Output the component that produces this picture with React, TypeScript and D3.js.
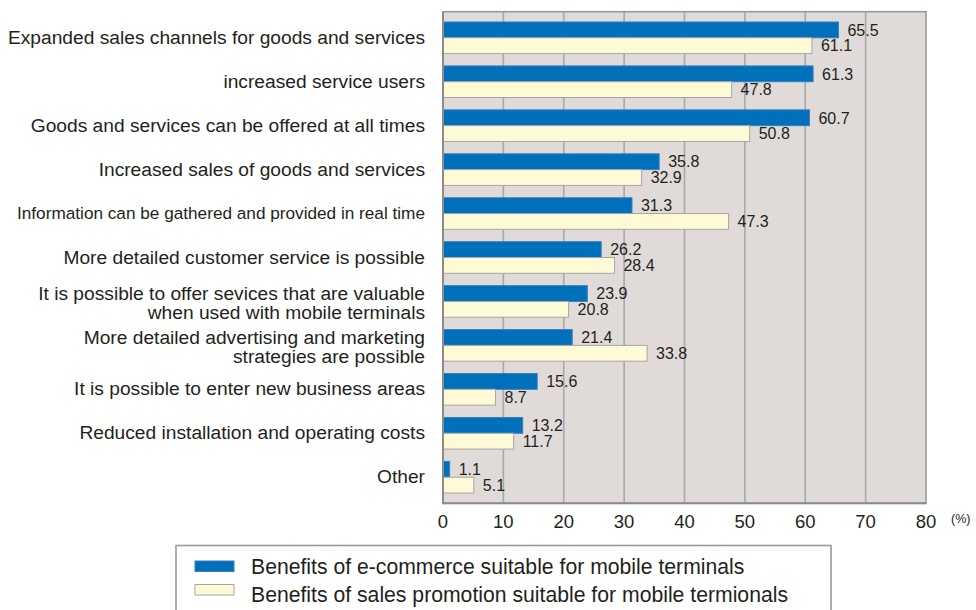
import React from 'react';
import * as d3 from 'd3';

const categories: string[] = [
  'Expanded sales channels for goods and services',
  'increased service users',
  'Goods and services can be offered at all times',
  'Increased sales of goods and services',
  'Information can be gathered and provided in real time',
  'More detailed customer service is possible',
  'It is possible to offer sevices that are valuable\nwhen used with mobile terminals',
  'More detailed advertising and marketing\nstrategies are possible',
  'It is possible to enter new business areas',
  'Reduced installation and operating costs',
  'Other',
];

const ecommerce: number[] = [65.5, 61.3, 60.7, 35.8, 31.3, 26.2, 23.9, 21.4, 15.6, 13.2, 1.1];
const promotion: number[] = [61.1, 47.8, 50.8, 32.9, 47.3, 28.4, 20.8, 33.8, 8.7, 11.7, 5.1];
const xTicks: number[] = [0, 10, 20, 30, 40, 50, 60, 70, 80];
const seriesNames: string[] = [
  'Benefits of e-commerce suitable for mobile terminals',
  'Benefits of sales promotion suitable for mobile termionals',
];
const seriesColors: string[] = ['#0070BA', '#FFFAD6'];
const seriesStrokes: string[] = ['#3A7DBE', '#A6A6A6'];

const W = 976;
const H = 610;
const FONT = '"Liberation Sans", Arial, Helvetica, sans-serif';
const TEXT = '#231F20';

export default function App() {
  const left = 443;
  const right = 926;
  const top = 11.7;
  const bottom = 503.3;

  const x = d3.scaleLinear().domain([0, 80]).range([left, right]);
  const y = d3
    .scaleBand<number>()
    .domain(d3.range(categories.length))
    .range([top, bottom])
    .paddingInner(0.281)
    .paddingOuter(0.234);
  const sub = d3.scaleBand<number>().domain([0, 1]).range([0, y.bandwidth()]);
  const series = [ecommerce, promotion];

  return (
    <svg
      width={W}
      height={H}
      style={{ position: 'absolute', left: 0, top: 0, fontFamily: FONT }}
    >
      <rect x={0} y={0} width={W} height={H} fill="#ffffff" />
      {/* plot background */}
      <rect x={left} y={top} width={right - left} height={bottom - top} fill="#E0DBD9" />
      {/* grid lines */}
      {xTicks
        .filter((t) => t > 0 && t < 80)
        .map((t) => (
          <line key={t} x1={x(t)} x2={x(t)} y1={top} y2={bottom} stroke="#A8A8A8" strokeWidth={1.6} />
        ))}
      {/* bars */}
      {series.map((vals, s) =>
        vals.map((v, i) => (
          <rect
            key={`${s}-${i}`}
            x={x(0)}
            y={(y(i) as number) + (sub(s) as number)}
            width={x(v) - x(0)}
            height={sub.bandwidth()}
            fill={seriesColors[s]}
            stroke={seriesStrokes[s]}
            strokeWidth={1}
          />
        ))
      )}
      {/* value labels */}
      {series.map((vals, s) =>
        vals.map((v, i) => (
          <text
            key={`l${s}-${i}`}
            x={x(v) + 9}
            y={(y(i) as number) + (sub(s) as number) + sub.bandwidth() / 2}
            dy="0.36em"
            fontSize={16}
            fill={TEXT}
          >
            {v.toFixed(1)}
          </text>
        ))
      )}
      {/* frame */}
      <rect x={left} y={top} width={right - left} height={bottom - top} fill="none" stroke="#999999" strokeWidth={1.6} />
      <line x1={left} x2={left} y1={top} y2={bottom + 1} stroke="#8C8C8C" strokeWidth={2} />
      <line x1={left} x2={right} y1={bottom} y2={bottom} stroke="#8C8C8C" strokeWidth={2} />
      {/* category labels */}
      {categories.map((c, i) => {
        const lines = c.split('\n');
        const cy = (y(i) as number) + y.bandwidth() / 2;
        const fs = c.length > 50 && lines.length === 1 ? 17.2 : 19.2;
        const lh = 19;
        const off = lines.length > 1 ? 2 : 0;
        return (
          <text key={`c${i}`} x={425} textAnchor="end" fontSize={fs} fill={TEXT}>
            {lines.map((ln, k) => (
              <tspan key={k} x={425} y={cy + off + (k - (lines.length - 1) / 2) * lh} dy="0.32em">
                {ln}
              </tspan>
            ))}
          </text>
        );
      })}
      {/* x tick labels */}
      {xTicks.map((t) => (
        <text key={`t${t}`} x={x(t)} y={521} dy="0.36em" textAnchor="middle" fontSize={18.5} fill={TEXT}>
          {t}
        </text>
      ))}
      <text x={951} y={518} dy="0.36em" fontSize={12.5} fill={TEXT}>
        (%)
      </text>
      {/* legend */}
      <rect x={176} y={545.5} width={655} height={80} fill="#ffffff" stroke="#9A9A9A" strokeWidth={1.6} />
      {seriesNames.map((n, s) => (
        <g key={`lg${s}`}>
          <rect
            x={195}
            y={561 + s * 23.5}
            width={39}
            height={10.5}
            fill={seriesColors[s]}
            stroke={seriesStrokes[s]}
            strokeWidth={1}
          />
          <text x={251} y={566.5 + s * 28} dy="0.36em" fontSize={21.2} fill={TEXT}>
            {n}
          </text>
        </g>
      ))}
    </svg>
  );
}
